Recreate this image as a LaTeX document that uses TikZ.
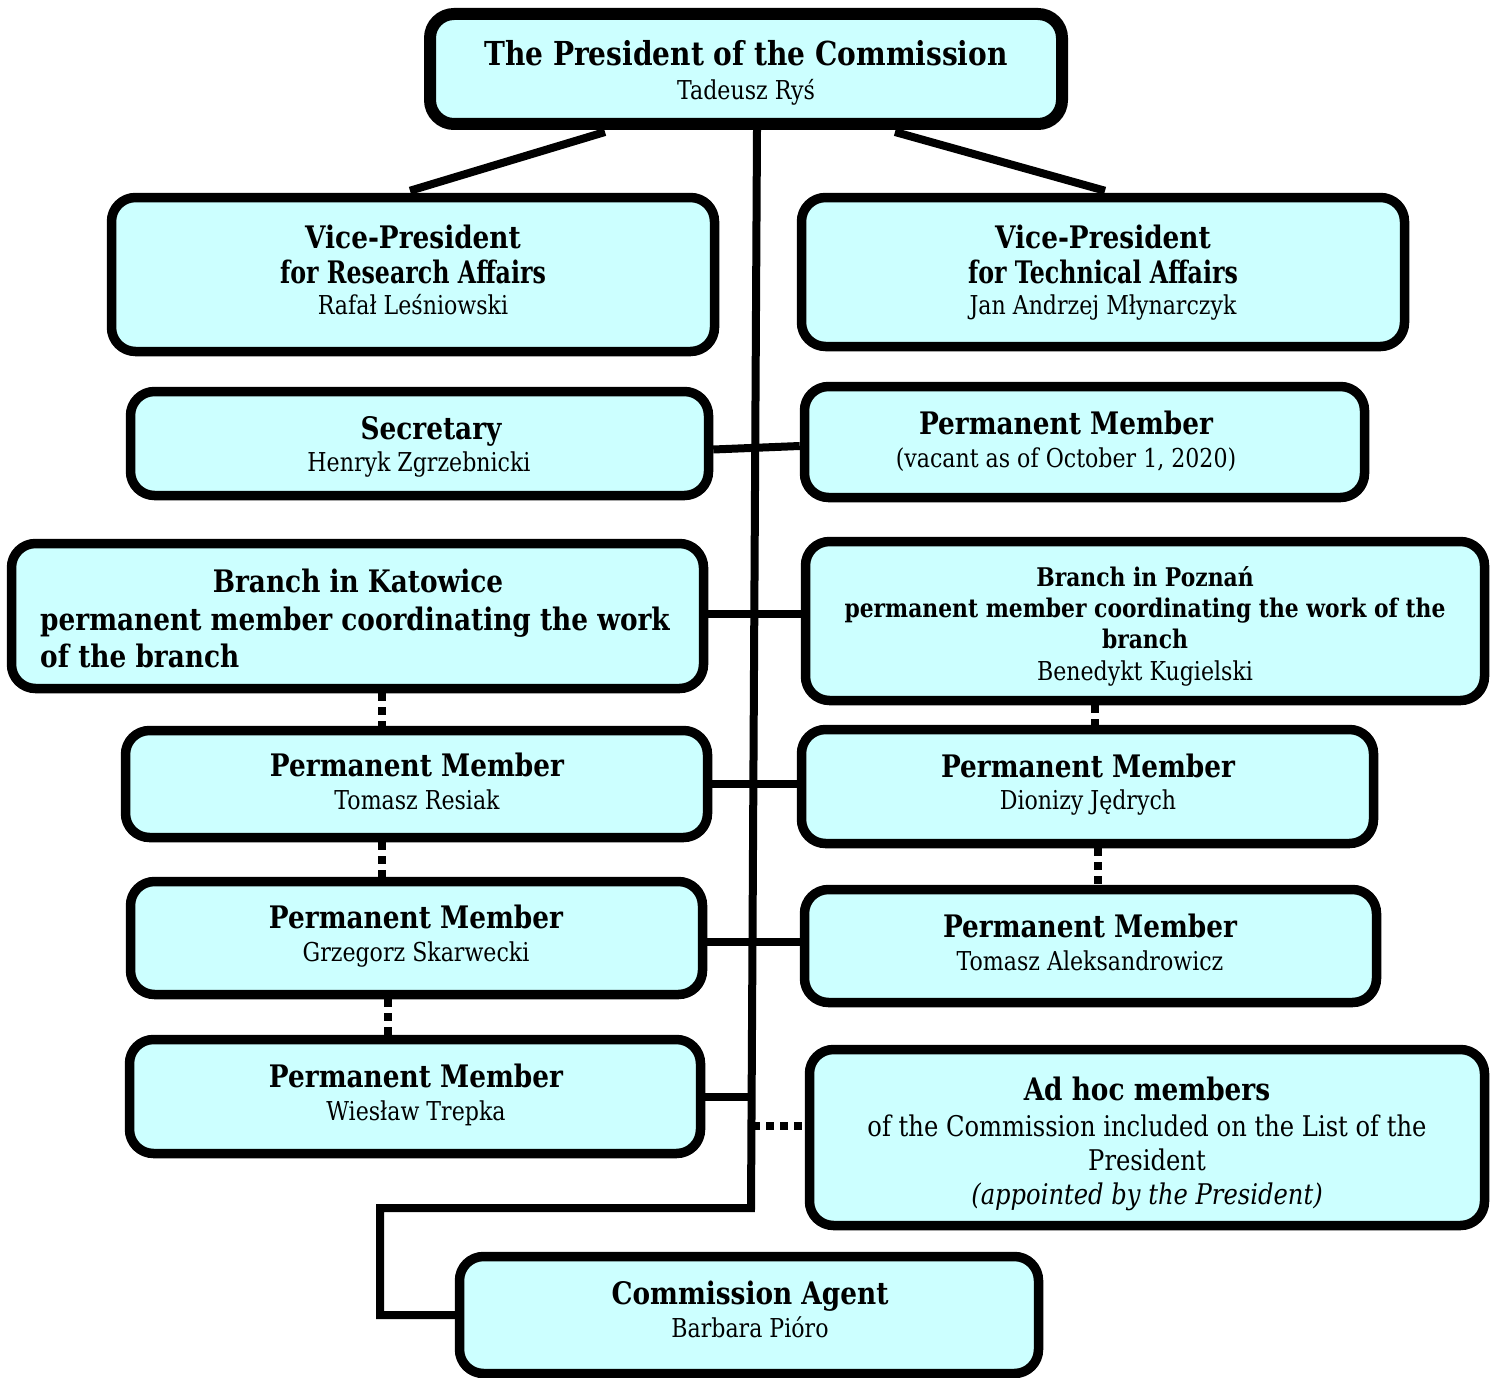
\documentclass[tikz,border=0pt]{standalone}
\usepackage{fontspec}
\usepackage{graphicx}
\setmainfont{DejaVu Serif}[FakeStretch=0.85]
\definecolor{boxfill}{RGB}{204,255,255}
\newcommand\ttlf{\bfseries\fontsize{31}{35}\selectfont}
\newcommand\bigbf{\bfseries\fontsize{33}{38}\selectfont}
\newcommand\smbf{\bfseries\fontsize{25.7}{30}\selectfont}
\newcommand\nmf{\fontsize{26}{33}\selectfont}
\newcommand\bodyf{\fontsize{28.5}{34}\selectfont}
\tikzset{
  box/.style={draw=black, fill=boxfill, line width=9.5pt, rounded corners=24pt, inner sep=0pt},
  tb/.style={inner sep=0pt, anchor=base, font=\ttlf},
  tn/.style={inner sep=0pt, anchor=base, font=\nmf},
  conn/.style={line width=8pt},
  dots/.style={line width=8pt, dash pattern=on 8pt off 6pt},
}
\begin{document}
\begin{tikzpicture}[x=1pt,y=-1pt]
\useasboundingbox (0,0) rectangle (1497,1378);
% boxes
\node[box, line width=12pt, minimum width=632pt, minimum height=110pt] (pres) at (746,69) {};
\node[box, minimum width=603pt, minimum height=154pt] (vpr) at (413,274.5) {};
\node[box, minimum width=603pt, minimum height=149pt] (vpt) at (1103,272) {};
\node[box, minimum width=578pt, minimum height=104pt] (sec) at (419.5,443.5) {};
\node[box, minimum width=560pt, minimum height=111pt] (vac) at (1084.5,442) {};
\node[box, minimum width=692pt, minimum height=145pt] (kat) at (357.5,616) {};
\node[box, minimum width=679pt, minimum height=159pt] (poz) at (1145,621) {};
\node[box, minimum width=582pt, minimum height=107pt] (res) at (416.5,784) {};
\node[box, minimum width=572pt, minimum height=114pt] (jed) at (1087.5,786.5) {};
\node[box, minimum width=572pt, minimum height=113pt] (ska) at (416.5,938) {};
\node[box, minimum width=572pt, minimum height=113pt] (ale) at (1090.5,946) {};
\node[box, minimum width=571pt, minimum height=114pt] (tre) at (415,1096.5) {};
\node[box, minimum width=675pt, minimum height=176pt] (adh) at (1147,1137.5) {};
\node[box, minimum width=579pt, minimum height=117pt] (agt) at (749,1315) {};
% texts
\node[tb, font=\bigbf] (t-pres1) at (746,66) {The President of the Commission};
\node[tn] (t-pres2) at (746,100) {Tadeusz Ryś};
\node[tb] (t-vpr1) at (413,248) {Vice-President};
\node[tb] (t-vpr2) at (413,283) {\scalebox{0.9}[1]{for Research Affairs}};
\node[tn] (t-vpr3) at (413,314) {Rafał Leśniowski};
\node[tb] (t-vpt1) at (1103,248) {Vice-President};
\node[tb] (t-vpt2) at (1103,283) {\scalebox{0.9}[1]{for Technical Affairs}};
\node[tn] (t-vpt3) at (1103,314) {Jan Andrzej Młynarczyk};
\node[tb] (t-sec1) at (431,439) {Secretary};
\node[tn] (t-sec2) at (419,471) {Henryk Zgrzebnicki};
\node[tb] (t-vac1) at (1066,434) {Permanent Member};
\node[tn] (t-vac2) at (1066,467) {(vacant as of October 1, 2020)};
\node[tb] (t-kat1) at (358,592) {Branch in Katowice};
\node[tb, anchor=base west] (t-kat2) at (40,630) {permanent member coordinating the work};
\node[tb, anchor=base west] (t-kat3) at (40,667) {of the branch};
\node[tb, font=\smbf] (t-poz1) at (1145,586) {Branch in Poznań};
\node[tb, font=\smbf] (t-poz2) at (1145,617) {permanent member coordinating the work of the};
\node[tb, font=\smbf] (t-poz3) at (1145,648) {branch};
\node[tn] (t-poz4) at (1145,680) {Benedykt Kugielski};
\node[tb] (t-res1) at (417,776) {Permanent Member};
\node[tn] (t-res2) at (417,809) {Tomasz Resiak};
\node[tb] (t-jed1) at (1088,777) {Permanent Member};
\node[tn] (t-jed2) at (1088,809) {Dionizy Jędrych};
\node[tb] (t-ska1) at (416,928) {Permanent Member};
\node[tn] (t-ska2) at (416,961) {Grzegorz Skarwecki};
\node[tb] (t-ale1) at (1090,937) {Permanent Member};
\node[tn] (t-ale2) at (1090,970) {Tomasz Aleksandrowicz};
\node[tb] (t-tre1) at (416,1087) {Permanent Member};
\node[tn] (t-tre2) at (416,1120) {Wiesław Trepka};
\node[tb] (t-adh1) at (1147,1100) {Ad hoc members};
\node[tn, font=\bodyf] (t-adh2) at (1147,1136) {of the Commission included on the List of the};
\node[tn, font=\bodyf] (t-adh3) at (1147,1170) {President};
\node[tn, font=\bodyf\itshape] (t-adh4) at (1147,1204) {(appointed by the President)};
\node[tb] (t-agt1) at (750,1304) {Commission Agent};
\node[tn] (t-agt2) at (750,1337) {Barbara Pióro};
% connectors
\coordinate (tbend) at (751,1208);
\coordinate (tleft) at (380,1208);
\draw[conn] ([xshift=-141pt,yshift=-2pt]pres.south) -- ([xshift=-3pt,yshift=2pt]vpr.north);
\draw[conn] ([xshift=149pt,yshift=-2pt]pres.south) -- ([xshift=2pt,yshift=2pt]vpt.north);
\draw[conn] ([xshift=11pt]pres.south) -- (tbend) -- (tleft) -- (tleft |- agt.west) -- (agt.west);
\draw[conn] ([yshift=-6pt]sec.east) -- ([yshift=-4pt]vac.west);
\draw[conn] ([yshift=2pt]kat.east) -- ([yshift=2pt]kat.east -| poz.west);
\draw[conn] (res.east) -- (res.east -| jed.west);
\draw[conn] ([yshift=-4pt]ska.east) -- ([yshift=-4pt]ska.east -| ale.west);
\draw[conn] (tre.east) -- (tre.east -| tbend);
\draw[dots] (752,1126) -- (752,1126 -| adh.west);
\draw[dots] ([xshift=24.5pt]kat.south) -- ([xshift=24.5pt]kat.south |- res.north);
\draw[dots] ([xshift=-34.5pt]res.south) -- ([xshift=-34.5pt]res.south |- ska.north);
\draw[dots] ([xshift=-28.5pt]ska.south) -- ([xshift=-28.5pt]ska.south |- tre.north);
\draw[dots] ([xshift=-50pt]poz.south) -- ([xshift=-50pt]poz.south |- jed.north);
\draw[dots] ([xshift=10.5pt]jed.south) -- ([xshift=10.5pt]jed.south |- ale.north);
\end{tikzpicture}
\end{document}
